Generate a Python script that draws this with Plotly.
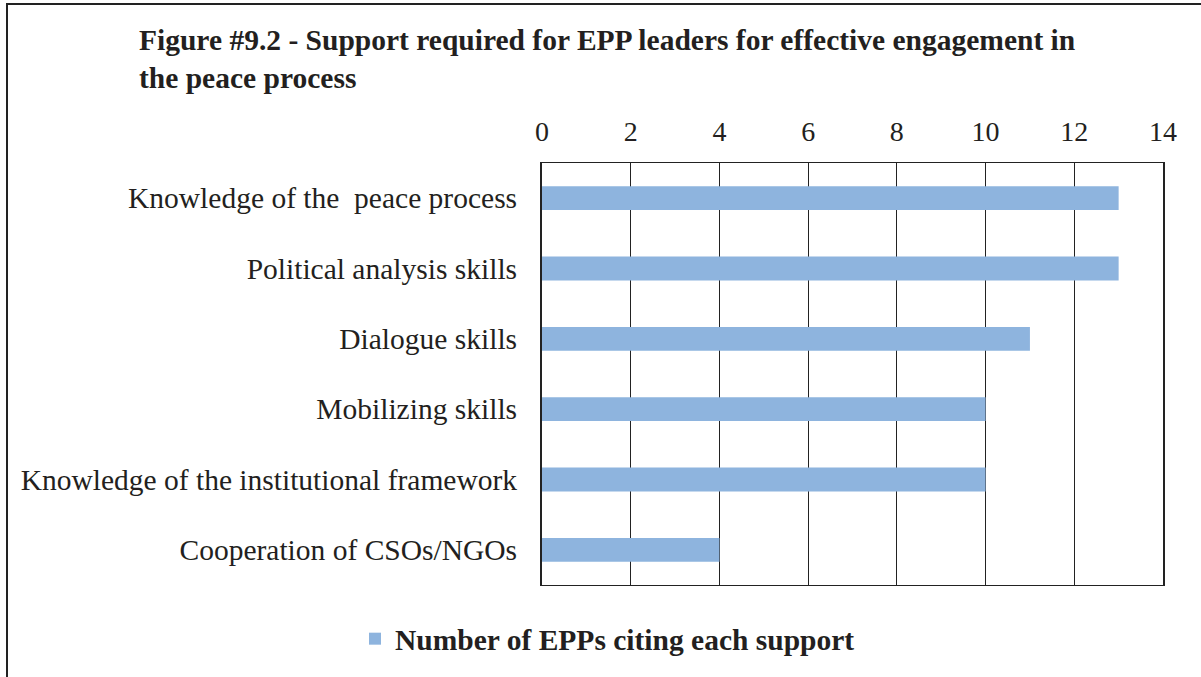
import plotly.graph_objects as go

categories = [
    "Knowledge of the \u00a0peace process",
    "Political analysis skills",
    "Dialogue skills",
    "Mobilizing skills",
    "Knowledge of the institutional framework",
    "Cooperation of CSOs/NGOs",
]
values = [13, 13, 11, 10, 10, 4]
series_name = "Number of EPPs citing each support"
x_ticks = [0, 2, 4, 6, 8, 10, 12, 14]
title_text = "Figure #9.2 - Support required for EPP leaders for effective engagement in<br>the peace process"

W, H = 1201, 677
L, R, T, B = 542, 38, 163, 92
pw, ph = W - L - R, H - T - B

FONT = "Liberation Serif, Times New Roman, serif"
TXT = "#231f20"
FS = 29.5

fig = go.Figure()
fig.add_trace(go.Bar(
    x=values, y=categories, orientation="h", name=series_name,
    marker=dict(color="#8eb4de", line=dict(width=0)), width=0.34,
    showlegend=True,
))

fig.update_layout(
    width=W, height=H,
    margin=dict(l=L, r=R, t=T, b=B, autoexpand=False),
    paper_bgcolor="white", plot_bgcolor="white",
    font=dict(family=FONT, size=FS, color=TXT),
    xaxis=dict(side="top", range=[0, 14], tickvals=x_ticks,
               showgrid=True, gridcolor="#222", gridwidth=1,
               zeroline=False, showline=True, linecolor="#222", linewidth=1,
               mirror=True, ticks="", ticklabelstandoff=10,
               tickfont=dict(family=FONT, size=28, color=TXT)),
    yaxis=dict(autorange="reversed", showgrid=False, ticks="",
               showline=True, linecolor="#222", linewidth=2, mirror=True,
               ticklabelstandoff=17,
               tickfont=dict(family=FONT, size=FS, color=TXT)),
    legend=dict(orientation="h", xref="container", yref="container",
                x=0.5 + 7 / W, xanchor="center", y=(H - 639) / H, yanchor="middle",
                font=dict(family=FONT, size=FS, color=TXT, weight="bold"),
                itemwidth=30, traceorder="normal"),
    bargap=0.66,
)

# title as an annotation placed in pixels
fig.add_annotation(text=title_text, xref="paper", yref="paper",
                   x=(137 - L) / pw, xanchor="left",
                   y=1 + (T - 22) / ph, yanchor="top",
                   showarrow=False, align="left",
                   font=dict(family=FONT, size=FS, color=TXT, weight="bold"))

# outer figure frame (left and top edges visible)
fig.add_shape(type="rect", xref="paper", yref="paper",
              x0=(7 - L) / pw, x1=(W + 20 - L) / pw,
              y0=-(H + 20 - (T + ph)) / ph, y1=1 + (T - 4) / ph,
              line=dict(color="#222", width=2), layer="below")

fig.write_html("out.html", config={"displayModeBar": False},
               post_script="document.body.style.margin='0';")
